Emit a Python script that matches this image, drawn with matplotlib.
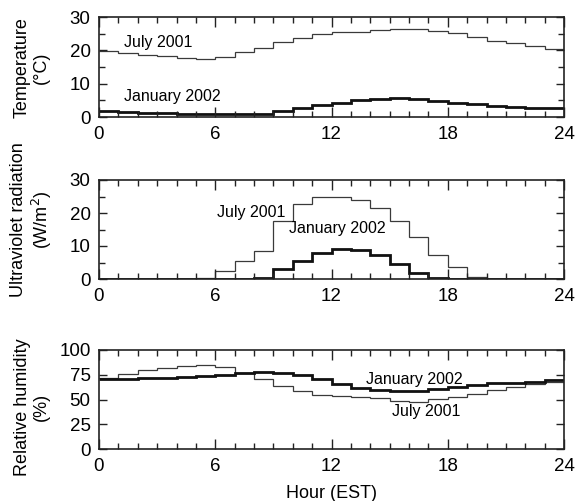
import matplotlib
matplotlib.use("Agg")
import matplotlib.pyplot as plt
from matplotlib.ticker import MultipleLocator
import numpy as np

plt.rcParams['font.family'] = ['Liberation Sans', 'DejaVu Sans']

hours = list(range(25))  # bin edges 0..24

temp_july = [19.9, 19.3, 18.7, 18.2, 17.8, 17.5, 18.0, 19.4, 20.8, 22.6, 23.8, 25.0,
             25.4, 25.6, 26.0, 26.4, 26.4, 25.9, 25.1, 24.1, 22.7, 22.1, 21.3, 20.5]
temp_jan = [1.8, 1.5, 1.3, 1.1, 1.0, 1.0, 1.0, 1.0, 1.0, 1.8, 2.7, 3.5,
            4.3, 5.0, 5.4, 5.6, 5.4, 4.8, 4.2, 3.8, 3.4, 3.1, 2.8, 2.6]

uv_july = [0, 0, 0, 0, 0, 0.2, 2.4, 5.4, 8.4, 17.7, 22.8, 24.9,
           24.8, 23.9, 21.6, 17.6, 12.8, 7.2, 3.6, 0.7, 0, 0, 0, 0]
uv_jan = [0, 0, 0, 0, 0, 0, 0, 0, 0.4, 2.9, 5.5, 8.0,
          9.2, 8.9, 7.2, 4.4, 1.8, 0.4, 0, 0, 0, 0, 0, 0]

rh_july = [72.1, 76.1, 79.5, 82.2, 83.5, 84.5, 82.5, 77.1, 71.0, 63.3, 58.6, 54.2,
           53.9, 52.9, 51.2, 48.8, 47.8, 50.2, 52.2, 55.2, 59.6, 62.6, 65.3, 68.0]
rh_jan = [70.7, 71.0, 71.4, 72.0, 72.7, 73.7, 74.7, 76.4, 78.1, 76.8, 74.4, 70.4,
          65.3, 62.0, 59.9, 58.6, 58.6, 60.6, 62.6, 64.6, 66.3, 67.0, 68.0, 69.4]

ylabels = ["Temperature\n(°C)", "Ultraviolet radiation\n(W/m$^2$)", "Relative humidity\n(%)"]
ylims = [(0, 30), (0, 30), (0, 100)]
ymajor = [10, 10, 25]
yminor = [5, 5, 25]
xticks = [0, 6, 12, 18, 24]

W, H = 577, 501
fig = plt.figure(figsize=(W / 100, H / 100), dpi=100)

panels = [(17, 117), (180, 279), (350, 449)]
left, right = 99, 564
label_centers = [68, 220, 407]

data = [(temp_july, temp_jan), (uv_july, uv_jan), (rh_july, rh_jan)]
axes = []
for i, ((top, bot), (jul, jan)) in enumerate(zip(panels, data)):
    ax = fig.add_axes([left / W, 1 - bot / H, (right - left) / W, (bot - top) / H])
    ax.stairs(jul, hours, color='#3a3a3a', lw=0.9, baseline=None)
    ax.stairs(jan, hours, color='#111111', lw=2.0, baseline=None)
    ax.set_xlim(0, 24)
    ax.set_ylim(*ylims[i])
    ax.set_xticks(xticks)
    ax.xaxis.set_minor_locator(MultipleLocator(1))
    ax.yaxis.set_major_locator(MultipleLocator(ymajor[i]))
    ax.yaxis.set_minor_locator(MultipleLocator(yminor[i]))
    ax.tick_params(which='both', direction='in', top=True, right=True,
                   labelsize=13.5, color='#222222', width=1.0)
    ax.tick_params(axis='x', which='major', length=7, pad=6.5)
    ax.tick_params(axis='x', which='minor', length=4)
    ax.tick_params(axis='y', which='major', length=6, pad=6)
    ax.tick_params(axis='y', which='minor', length=4)
    for s in ax.spines.values():
        s.set_linewidth(1.2)
        s.set_color('#222222')
    fig.text(32 / W, 1 - label_centers[i] / H, ylabels[i], rotation=90,
             ha='center', va='center', fontsize=13, multialignment='center')
    axes.append(ax)

ann = 11.5
axes[0].text(1.29, 22.5, "July 2001", fontsize=ann, ha='left', va='center')
axes[0].text(1.29, 6.3, "January 2002", fontsize=ann, ha='left', va='center')
axes[1].text(9.6, 20.3, "July 2001", fontsize=ann, ha='right', va='center')
axes[1].text(9.8, 15.2, "January 2002", fontsize=ann, ha='left', va='center')
axes[2].text(13.8, 69.7, "January 2002", fontsize=ann, ha='left', va='center')
axes[2].text(15.1, 37.4, "July 2001", fontsize=ann, ha='left', va='center')

fig.text((left + right) / 2 / W, 1 - 493 / H, "Hour (EST)", ha='center', va='center', fontsize=13)

fig.savefig("out.png", dpi=100)
